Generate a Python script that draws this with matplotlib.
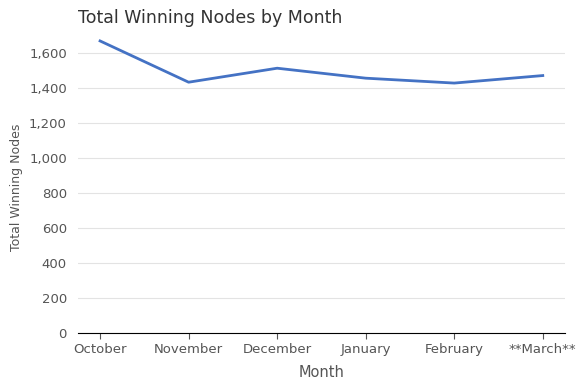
import matplotlib
matplotlib.use('Agg')
import matplotlib.pyplot as plt
from matplotlib.ticker import FuncFormatter

months = ['October', 'November', 'December', 'January', 'February', '**March**']
winning_nodes = [1670, 1434, 1514, 1457, 1429, 1472]

fig = plt.figure(figsize=(5.86, 3.88), dpi=100)
ax = fig.add_axes([0.133, 0.142, 0.831, 0.766])

ax.plot(range(len(months)), winning_nodes, color='#4472C4', linewidth=2)

ax.set_xticks(range(len(months)))
ax.set_xticklabels(months)
ax.set_ylim(0, 1700)
ax.set_yticks(range(0, 1700, 200))
ax.yaxis.set_major_formatter(FuncFormatter(lambda v, p: f'{int(v):,}'))

ax.grid(axis='y', color='#e3e3e3', linewidth=0.8)
ax.set_axisbelow(True)
for s in ['top', 'right', 'left']:
    ax.spines[s].set_visible(False)
ax.spines['bottom'].set_color('black')
ax.tick_params(axis='y', length=0, labelsize=9.5, labelcolor='#555555', pad=8)
ax.tick_params(axis='x', length=4, color='#555555', labelsize=9.5, labelcolor='#555555')

ax.set_title('Total Winning Nodes by Month', loc='left', fontsize=12.5, color='#333333', pad=9.5)
ax.set_xlabel('Month', fontsize=10.5, color='#555555', labelpad=6)
ax.set_ylabel('Total Winning Nodes', fontsize=9, color='#555555')
ax.yaxis.set_label_coords(-0.112, 0.49)

fig.savefig('out.png', dpi=100)
